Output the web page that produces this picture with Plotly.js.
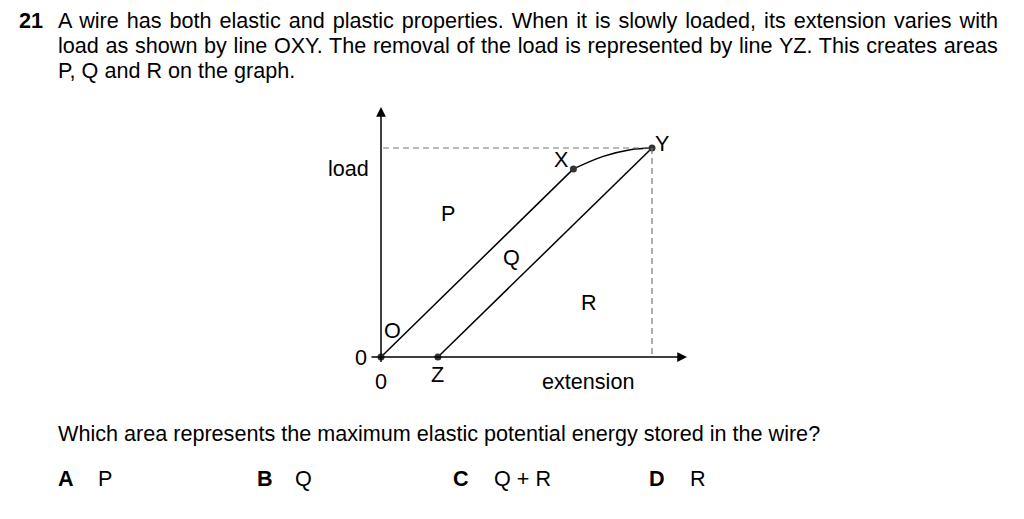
<!DOCTYPE html>
<html><head><meta charset="utf-8">
<script src="https://cdn.plot.ly/plotly-3.0.1.min.js"></script>
<style>html,body{margin:0;padding:0;background:#fff;}#chart{width:1024px;height:519px;}</style>
</head><body><div id="chart"></div>
<script>
// Loading path O -> X -> Y (extension, load) in arbitrary units
const loadExt = [0, 7.1, 8.2, 9.2, 10];
const loadLoad = [0, 9.0, 9.6, 9.92, 10];
// Unloading path Y -> Z
const unloadExt = [10, 2.1];
const unloadLoad = [10, 0];
// Labelled points
const pointNames = ["O", "X", "Y", "Z"];
const pointExt = [0, 7.1, 10, 2.1];
const pointLoad = [0, 9.0, 10, 0];
// Area labels
const areaNames = ["P", "Q", "R"];
const areaExt = [2.47, 4.83, 7.68];
const areaLoad = [6.89, 4.74, 2.63];

const FONT = "Liberation Sans, Arial, Helvetica, sans-serif";
const XS = 27.1, X0 = 381, YS = 20.9, Y0 = 357, W = 1024, H = 519;
const fs = 21.6;

const traces = [
  {x: loadExt.slice(0,2), y: loadLoad.slice(0,2), mode: 'lines', line: {color: '#000', width: 1.5}, hoverinfo: 'skip'},
  {x: loadExt.slice(1), y: loadLoad.slice(1), mode: 'lines', line: {color: '#000', width: 1.5, shape: 'spline'}, hoverinfo: 'skip'},
  {x: unloadExt, y: unloadLoad, mode: 'lines', line: {color: '#000', width: 1.5}, hoverinfo: 'skip'},
  {x: pointExt, y: pointLoad, mode: 'markers', marker: {color: '#333', size: 7}, hoverinfo: 'skip'}
];

function pt(px, py){ return {x: (px - X0)/XS, y: (Y0 - py)/YS}; }
const ann = [];
function txt(text, px, py, opts){
  ann.push(Object.assign({xref:'paper', yref:'paper', x: px/W, y: 1 - py/H, text: text, showarrow:false,
    xanchor:'left', yanchor:'middle', font:{family:FONT, size:fs, color:'#000'}}, opts||{}));
}
// Question text
txt('<b>21</b>', 17, 20);
txt('A wire has both elastic and plastic properties. When it is slowly loaded, its extension varies with', 56, 20);
txt('load as shown by line OXY. The removal of the load is represented by line YZ. This creates areas', 56, 45);
txt('P, Q and R on the graph.', 56, 70);
txt('Which area represents the maximum elastic potential energy stored in the wire?', 56, 433);
txt('<b>A</b>', 56, 478); txt('P', 96, 478);
txt('<b>B</b>', 255, 478); txt('Q', 293, 478);
txt('<b>C</b>', 451, 478); txt('Q + R', 492, 478);
txt('<b>D</b>', 647, 478); txt('R', 688, 478);

// Graph labels (data coordinates)
function dl(text, px, py){
  const p = pt(px, py);
  ann.push({xref:'x', yref:'y', x:p.x, y:p.y, text:text, showarrow:false, xanchor:'center', yanchor:'middle',
    font:{family:FONT, size:fs, color:'#000'}});
}
dl('load', 348, 168);
dl('extension', 588, 381);
dl('0', 381, 381);
dl('0', 361, 357);
areaNames.forEach((n,i)=>ann.push({xref:'x', yref:'y', x:areaExt[i], y:areaLoad[i], text:n, showarrow:false,
  xanchor:'center', yanchor:'middle', font:{family:FONT, size:fs, color:'#000'}}));
const offs = {O:[11,-27], X:[-12,-9], Y:[10,-5], Z:[0,17]};
pointNames.forEach((n,i)=>{
  const o = offs[n];
  ann.push({xref:'x', yref:'y', x:pointExt[i] + o[0]/XS, y:pointLoad[i] - o[1]/YS, text:n, showarrow:false,
    xanchor:'center', yanchor:'middle', font:{family:FONT, size:fs, color:'#000'}});
});
// Axis arrows
const yTop = pt(381, 107), xEnd = pt(687, 357);
ann.push({xref:'x', yref:'y', axref:'x', ayref:'y', x:yTop.x, y:yTop.y, ax:0, ay:0, text:'', showarrow:true,
  arrowhead:2, arrowsize:1.3, arrowwidth:1.5, arrowcolor:'#000'});
ann.push({xref:'x', yref:'y', axref:'x', ayref:'y', x:xEnd.x, y:xEnd.y, ax:pt(370,357).x, ay:0, text:'', showarrow:true,
  arrowhead:2, arrowsize:1.3, arrowwidth:1.5, arrowcolor:'#000'});

const shapes = [
  {type:'line', xref:'x', yref:'y', x0:0, x1:0, y0:0, y1:pt(0,362).y, line:{color:'#000', width:1.4}},
  {type:'line', xref:'x', yref:'y', x0:pt(383,0).x, x1:10, y0:10, y1:10, line:{color:'#777', width:1.2, dash:'6px,4px'}},
  {type:'line', xref:'x', yref:'y', x0:10, x1:10, y0:10, y1:0, line:{color:'#777', width:1.2, dash:'6px,4px'}}
];

const layout = {
  width: W, height: H, margin:{l:0,r:0,t:0,b:0}, paper_bgcolor:'#fff', plot_bgcolor:'#fff', showlegend:false,
  xaxis:{range:[-X0/XS, (W-X0)/XS], visible:false, fixedrange:true},
  yaxis:{range:[-(H-Y0)/YS, Y0/YS], visible:false, fixedrange:true},
  annotations: ann, shapes: shapes
};
Plotly.newPlot('chart', traces, layout, {staticPlot:true, displayModeBar:false}).then(function(){
  // justify the first two lines of the question between x=57 and x=998
  [1, 2].forEach(function(idx){
    const t = document.querySelector('g.annotation[data-index="' + idx + '"] text');
    if(!t) return;
    const r0 = t.getBoundingClientRect();
    const spaces = (t.textContent.match(/ /g) || []).length;
    const ws = (998 - r0.left - r0.width) / spaces;
    if (ws > 0 && ws < 10) t.style.wordSpacing = ws + 'px';
    const r1 = t.getBoundingClientRect();
    const dx = r0.left - r1.left;
    const prev = t.getAttribute('transform') || '';
    t.setAttribute('transform', 'translate(' + dx + ',0) ' + prev);
  });
});
</script></body></html>
